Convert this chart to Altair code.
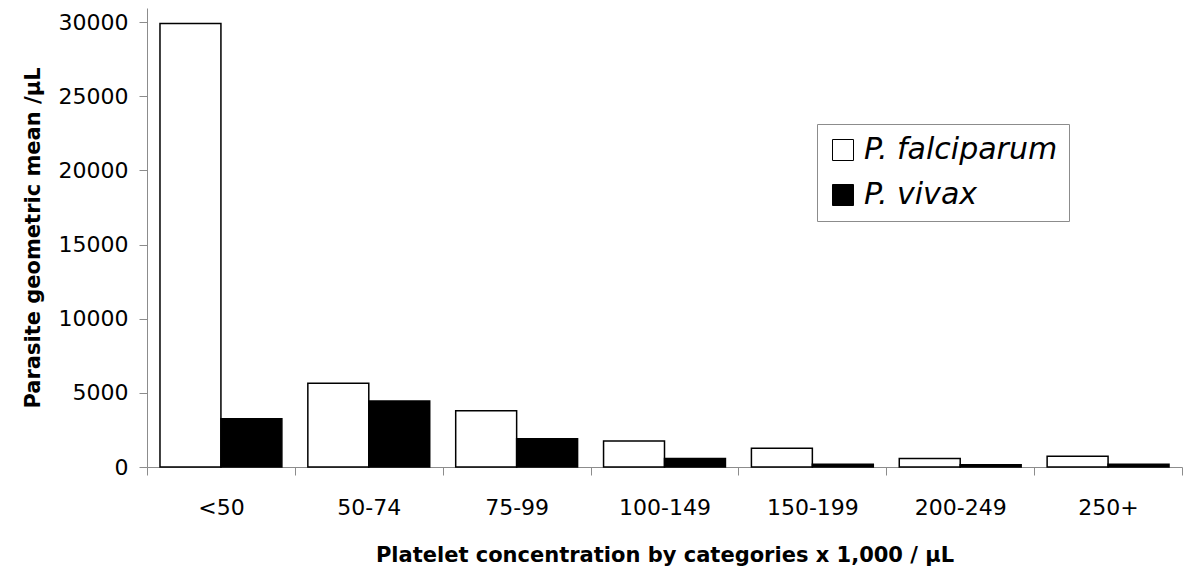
import altair as alt
import pandas as pd

categories = ["<50", "50-74", "75-99", "100-149", "150-199", "200-249", "250+"]
species = ["P. falciparum", "P. vivax"]
falciparum = [29900, 5650, 3800, 1750, 1270, 580, 720]
vivax = [3250, 4450, 1900, 580, 180, 160, 180]

rows = []
for c, f, v in zip(categories, falciparum, vivax):
    rows.append({"cat": c, "species": species[0], "value": f})
    rows.append({"cat": c, "species": species[1], "value": v})
df = pd.DataFrame(rows)

FONT = "DejaVu Sans"
GREY = "#8c8c8c"

chart = alt.Chart(df).mark_bar(stroke="black", strokeWidth=1.5).encode(
    x=alt.X(
        "cat:N",
        sort=categories,
        scale=alt.Scale(paddingInner=0, paddingOuter=0),
        axis=alt.Axis(
            title="Platelet concentration by categories x 1,000 / µL",
            labelAngle=0,
            tickBand="extent",
            tickSize=8,
            tickColor=GREY,
            domainColor=GREY,
            labelFont=FONT,
            labelFontSize=22,
            labelColor="black",
            labelPadding=22,
            titleFont=FONT,
            titleFontSize=21,
            titleFontWeight="bold",
            titleColor="black",
            titleBaseline="alphabetic",
            titleY=94,
        ),
    ),
    xOffset=alt.XOffset(
        "species:N",
        sort=species,
        scale=alt.Scale(paddingInner=0, paddingOuter=0.213),
    ),
    y=alt.Y(
        "value:Q",
        scale=alt.Scale(domain=[0, 30944], nice=False, zero=True),
        axis=alt.Axis(
            title="Parasite geometric mean /µL",
            values=[0, 5000, 10000, 15000, 20000, 25000, 30000],
            format="d",
            grid=False,
            tickSize=8,
            tickColor=GREY,
            domainColor=GREY,
            labelFont=FONT,
            labelFontSize=22,
            labelColor="black",
            labelPadding=11,
            titleFont=FONT,
            titleFontSize=21,
            titleFontWeight="bold",
            titleColor="black",
            titleBaseline="alphabetic",
            titleX=-108,
        ),
    ),
    color=alt.Color(
        "species:N",
        sort=species,
        scale=alt.Scale(domain=species, range=["white", "black"]),
        legend=alt.Legend(
            title=None,
            orient="none",
            legendX=670,
            legendY=116,
            symbolType="square",
            symbolSize=441,
            symbolStrokeColor="black",
            symbolStrokeWidth=1,
            labelFont=FONT,
            labelFontSize=30,
            labelFontStyle="italic",
            labelColor="black",
            labelLimit=400,
            labelOffset=6,
            rowPadding=15,
            padding=11,
            strokeColor=GREY,
            fillColor="white",
        ),
    ),
).properties(
    width=1035,
    height=459,
    autosize=alt.AutoSizeParams(type="none"),
    padding={"left": 139, "top": 0, "right": 10, "bottom": 105},
).configure_view(stroke=None)

chart.save("out.html", embed_options={"renderer": "svg", "actions": False})
